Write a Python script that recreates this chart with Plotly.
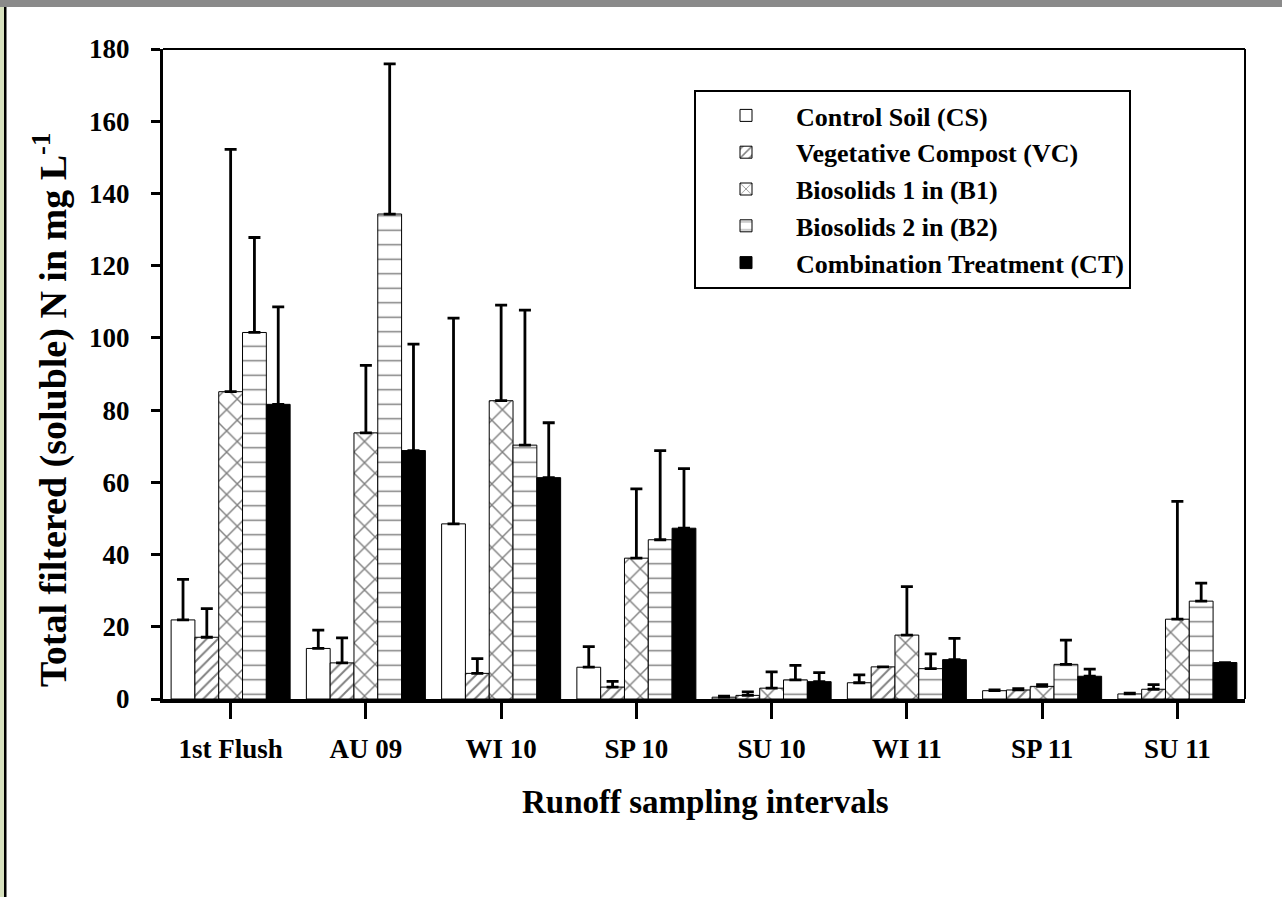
import plotly.graph_objects as go

categories = ["1st Flush", "AU 09", "WI 10", "SP 10", "SU 10", "WI 11", "SP 11", "SU 11"]

series_names = ["Control Soil (CS)", "Vegetative Compost (VC)", "Biosolids 1 in (B1)",
                "Biosolids 2 in (B2)", "Combination Treatment (CT)"]

cs_values = [21.9, 14.0, 48.5, 8.8, 0.5, 4.5, 2.3, 1.4]
cs_errors = [11.2, 5.1, 57.0, 5.7, 0.3, 2.2, 0.2, 0.2]

vc_values = [17.1, 10.0, 7.1, 3.3, 1.0, 8.9, 2.5, 2.7]
vc_errors = [7.9, 6.9, 4.1, 1.6, 1.0, 0.0, 0.4, 1.3]

b1_values = [85.1, 73.7, 82.6, 39.0, 3.0, 17.7, 3.5, 22.1]
b1_errors = [67.1, 18.7, 26.5, 19.2, 4.5, 13.4, 0.5, 32.6]

b2_values = [101.5, 134.3, 70.3, 44.1, 5.3, 8.4, 9.6, 27.1]
b2_errors = [26.3, 41.6, 37.4, 24.7, 4.0, 4.1, 6.7, 5.0]

ct_values = [81.6, 68.8, 61.3, 47.3, 4.8, 10.9, 6.3, 10.1]
ct_errors = [27.0, 29.5, 15.2, 16.5, 2.5, 5.9, 2.0, 0.0]

y_ticks = [0, 20, 40, 60, 80, 100, 120, 140, 160, 180]

values = [cs_values, vc_values, b1_values, b2_values, ct_values]
errors = [cs_errors, vc_errors, b1_errors, b2_errors, ct_errors]

styles = [
    dict(color="white", pattern=dict(shape="")),
    dict(color="white", pattern=dict(shape="/", size=8, solidity=0.24, fgcolor="black", bgcolor="white")),
    dict(color="white", pattern=dict(shape="x", size=15, solidity=0.18, fgcolor="black", bgcolor="white")),
    dict(color="white", pattern=dict(shape="-", size=14.5, solidity=0.1, fgcolor="black", bgcolor="white")),
    dict(color="black", pattern=dict(shape="")),
]

FONT = "Liberation Serif, Times New Roman, serif"

fig = go.Figure()
for name, vals, errs, st in zip(series_names, values, errors, styles):
    fig.add_trace(go.Bar(
        x=categories, y=vals, name=name,
        marker=dict(color=st["color"], pattern=st["pattern"],
                    line=dict(color="black", width=1)),
        error_y=dict(type="data", symmetric=False, array=errs,
                     arrayminus=[0] * len(errs), color="black",
                     thickness=2.8, width=6),
    ))

# plot area geometry in pixels
FW, FH = 1282, 897
L, R, T, B = 163, 1245, 49, 699
W, H = R - L, B - T

def px_x(p):
    return (p - L) / W

def px_y(p):
    return (B - p) / H

shapes = [
    # top and right frame lines (thin)
    dict(type="line", xref="paper", yref="paper", x0=0, x1=1, y0=1, y1=1,
         line=dict(color="black", width=2)),
    dict(type="line", xref="paper", yref="paper", x0=1, x1=1, y0=0, y1=1,
         line=dict(color="black", width=2)),
    # page decorations
    dict(type="rect", xref="paper", yref="paper", x0=px_x(0), x1=px_x(FW),
         y0=px_y(7), y1=px_y(0), line=dict(width=0), fillcolor="#8a8a8a", layer="above"),
    dict(type="rect", xref="paper", yref="paper", x0=px_x(0), x1=px_x(4),
         y0=px_y(FH), y1=px_y(7), line=dict(width=0), fillcolor="#d8e2bf", layer="above"),
    dict(type="rect", xref="paper", yref="paper", x0=px_x(4), x1=px_x(6.5),
         y0=px_y(FH), y1=px_y(7), line=dict(width=0), fillcolor="black", layer="above"),
]

annotations = [
    dict(text="<b>Runoff sampling intervals</b>", xref="paper", yref="paper",
         x=px_x(705), y=px_y(802), showarrow=False, xanchor="center", yanchor="middle",
         font=dict(family=FONT, size=33, color="black")),
    dict(text="<b>Total filtered (soluble) N in mg L<sup>-1</sup></b>", xref="paper", yref="paper",
         x=px_x(50), y=px_y(410), showarrow=False, xanchor="center", yanchor="middle",
         textangle=-90, font=dict(family=FONT, size=38, color="black")),
]

fig.update_layout(
    width=FW, height=FH,
    margin=dict(l=L, r=FW - R, t=T, b=FH - B),
    paper_bgcolor="white", plot_bgcolor="white",
    barmode="group", bargap=0.12, bargroupgap=0,
    font=dict(family=FONT, size=27, color="black", weight="bold"),
    showlegend=True,
    legend=dict(x=px_x(694), y=px_y(90), xanchor="left", yanchor="top",
                bgcolor="white", bordercolor="black", borderwidth=2,
                font=dict(family=FONT, size=26, color="black", weight="bold"),
                itemwidth=90, tracegroupgap=0),
    shapes=shapes, annotations=annotations,
    xaxis=dict(range=[-0.5, 7.5], showline=True, linecolor="black", linewidth=3.5,
               ticks="outside", ticklen=16, tickwidth=3, tickcolor="black",
               ticklabelstandoff=7, showgrid=False, zeroline=False,
               tickfont=dict(family=FONT, size=27, color="black", weight="bold")),
    yaxis=dict(range=[0, 180], tickvals=y_ticks, showline=True, linecolor="black",
               linewidth=3, ticks="outside", ticklen=9, tickwidth=3, tickcolor="black",
               ticklabelstandoff=16, showgrid=False, zeroline=False,
               tickfont=dict(family=FONT, size=27, color="black", weight="bold")),
)

fig.write_html("out.html", config={"displayModeBar": False},
               post_script="document.body.style.margin='0';document.body.style.overflow='hidden';")
